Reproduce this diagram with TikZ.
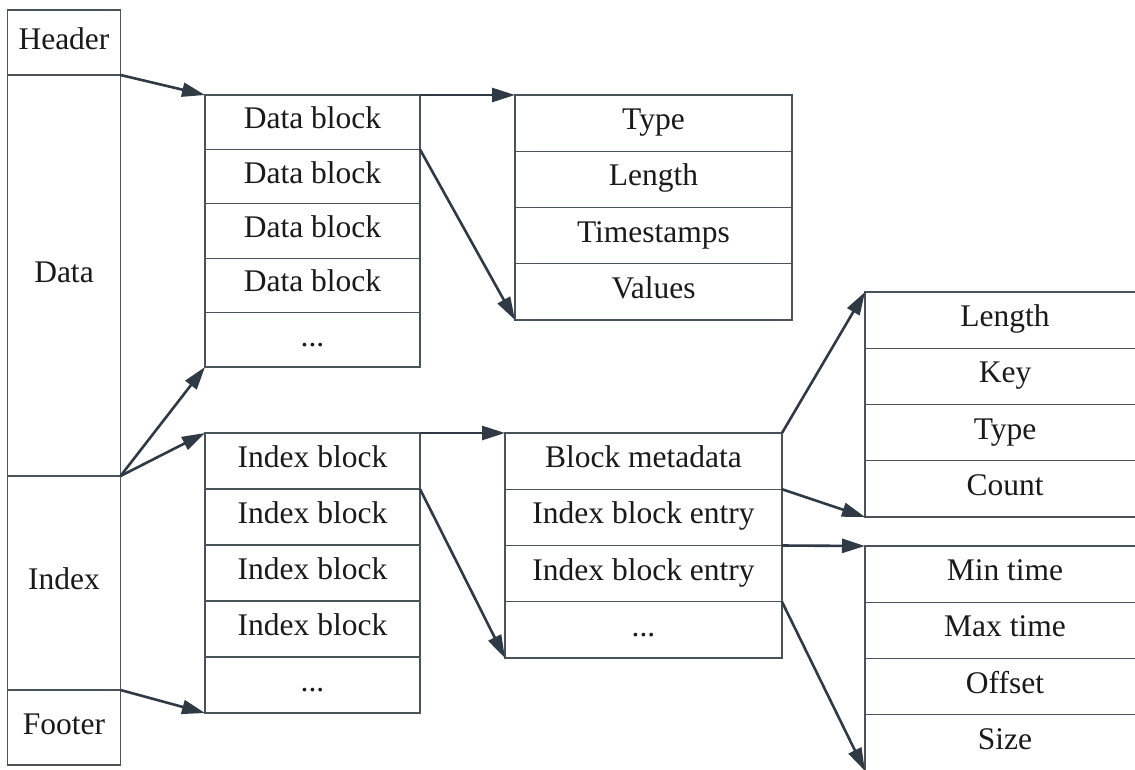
\documentclass[tikz,border=0pt]{standalone}
\usepackage{fontspec}
\setmainfont{Liberation Serif}
\usetikzlibrary{arrows.meta}
\definecolor{boxline}{HTML}{4A525A}
\definecolor{arrowc}{HTML}{2F3A45}
\definecolor{txt}{HTML}{1A1A1A}
\newcommand{\mydots}{...}
\tikzset{
  cell/.style={draw=boxline, line width=1.3pt, inner sep=0pt, outer sep=0pt,
    anchor=north west, text=txt, font=\fontsize{31.5}{36}\selectfont,
    text height=22pt, text depth=9pt},
  conn/.style={draw=arrowc, line width=2.6pt, -{Triangle[length=23pt,width=14pt]}, shorten >=0pt}
}
\begin{document}
\begin{tikzpicture}[x=1pt,y=-1pt]
\clip (0,0) rectangle (1135,769);
\fill[white] (0,0) rectangle (1135,769);
% left column
\node[cell, minimum width=113pt, minimum height=65pt] (header) at (7.5,10) {Header};
\node[cell, minimum width=113pt, minimum height=401pt] (data) at (7.5,75) {Data};
\node[cell, minimum width=113pt, minimum height=214pt] (index) at (7.5,476) {Index};
\node[cell, minimum width=113pt, minimum height=75pt] (footer) at (7.5,690) {Footer};
% data blocks
\foreach \i/\t in {1/Data block,2/Data block,3/Data block,4/Data block,5/\mydots}{
  \node[cell, minimum width=215pt, minimum height=54.4pt] (d\i) at (205,{95+(\i-1)*54.4}) {\t};
}
% data block detail
\foreach \i/\t in {1/Type,2/Length,3/Timestamps,4/Values}{
  \node[cell, minimum width=277pt, minimum height=56.25pt] (t\i) at (515,{95+(\i-1)*56.25}) {\t};
}
% index blocks
\foreach \i/\t in {1/Index block,2/Index block,3/Index block,4/Index block,5/\mydots}{
  \node[cell, minimum width=215pt, minimum height=56pt] (i\i) at (205,{433+(\i-1)*56}) {\t};
}
% index block detail
\foreach \i/\t in {1/Block metadata,2/Index block entry,3/Index block entry,4/\mydots}{
  \node[cell, minimum width=277pt, minimum height=56.25pt] (m\i) at (505,{433+(\i-1)*56.25}) {\t};
}
% block metadata detail
\foreach \i/\t in {1/Length,2/Key,3/Type,4/Count}{
  \node[cell, minimum width=280pt, minimum height=56.25pt] (r\i) at (865,{292+(\i-1)*56.25}) {\t};
}
% index entry detail
\foreach \i/\t in {1/Min time,2/Max time,3/Offset,4/Size}{
  \node[cell, minimum width=280pt, minimum height=56.25pt] (s\i) at (865,{546+(\i-1)*56.25}) {\t};
}
% connectors
\draw[conn] (header.south east) -- (d1.north west);
\draw[conn] (data.south east) -- (d5.south west);
\draw[conn] (data.south east) -- (i1.north west);
\draw[conn] (footer.north east) -- (i5.south west);
\draw[conn] (d1.north east) -- (t1.north west);
\draw[conn] (d1.south east) -- (t4.south west);
\draw[conn] (i1.north east) -- (m1.north west);
\draw[conn] (i1.south east) -- (m4.south west);
\draw[conn] (m1.north east) -- (r1.north west);
\draw[conn] (m1.south east) -- (r4.south west);
\draw[conn] (m2.south east) -- (s1.north west);
\draw[conn] (m3.south east) -- (s4.south west);
\end{tikzpicture}
\end{document}
